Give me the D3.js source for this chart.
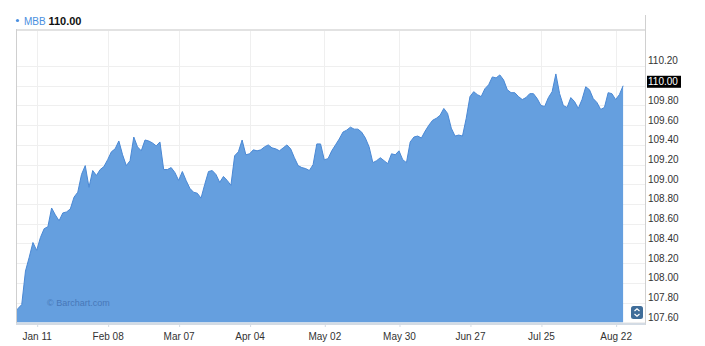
<!DOCTYPE html>
<html>
<head>
<meta charset="utf-8">
<script src="https://cdn.jsdelivr.net/npm/d3@7"></script>
<style>
  body { margin: 0; background: #fff; }
  svg { display: block; font-family: "Liberation Sans", Arial, sans-serif; }
</style>
</head>
<body>
<div id="grafica"></div>
<script>
// MBB daily closes (trading days), first value is the day before the visible window
const symbol = "MBB";
const prices = [
  107.70, 107.74, 107.78, 108.12, 108.26, 108.41, 108.33, 108.46, 108.55, 108.57,
  108.76, 108.69, 108.63, 108.71, 108.72, 108.75, 108.87, 108.92, 109.10, 109.19,
  108.97, 109.14, 109.09, 109.15, 109.18, 109.25, 109.33, 109.36, 109.44, 109.30,
  109.19, 109.24, 109.48, 109.38, 109.34, 109.45, 109.44, 109.42, 109.39, 109.43,
  109.15, 109.15, 109.17, 109.12, 109.04, 109.13, 109.04, 108.96, 108.92, 108.91,
  108.86, 109.00, 109.13, 109.14, 109.10, 109.02, 109.08, 109.04, 108.99, 109.29,
  109.33, 109.45, 109.30, 109.31, 109.35, 109.34, 109.35, 109.38, 109.40, 109.37,
  109.36, 109.34, 109.37, 109.40, 109.36, 109.27, 109.19, 109.17, 109.16, 109.14,
  109.20, 109.41, 109.41, 109.25, 109.26, 109.34, 109.40, 109.46, 109.53, 109.55,
  109.58, 109.56, 109.56, 109.53, 109.47, 109.38, 109.22, 109.24, 109.27, 109.24,
  109.21, 109.31, 109.30, 109.34, 109.25, 109.22, 109.43, 109.48, 109.49, 109.47,
  109.54, 109.60, 109.65, 109.67, 109.70, 109.77, 109.72, 109.57, 109.49, 109.50,
  109.49, 109.67, 109.89, 109.94, 109.91, 109.89, 109.97, 110.01, 110.09, 110.08,
  110.11, 110.06, 109.96, 109.93, 109.93, 109.89, 109.86, 109.88, 109.92, 109.92,
  109.87, 109.80, 109.79, 109.88, 109.94, 110.12, 109.92, 109.80, 109.78, 109.88,
  109.84, 109.77, 109.86, 109.99, 109.96, 109.87, 109.83, 109.76, 109.78, 109.93,
  109.92, 109.86, 109.91, 110.00
];
const tickIndex = [6, 25, 44, 63, 83, 103, 122, 141, 161];
const tickLabels = ["Jan 11", "Feb 08", "Mar 07", "Apr 04", "May 02", "May 30", "Jun 27", "Jul 25", "Aug 22"];
const yTicks = [107.60, 107.80, 108.00, 108.20, 108.40, 108.60, 108.80, 109.00, 109.20, 109.40, 109.60, 109.80, 110.00, 110.20];

const width = 705, height = 346;
const plot = { left: 16, right: 645.5, top: 29.5, bottom: 324 };

const svg = d3.select("#grafica")
  .append("svg")
  .attr("width", width)
  .attr("height", height);

const x = d3.scaleLinear()
  .domain([0, prices.length - 1])
  .range([14.27, 623.1]);

const y = d3.scaleLinear()
  .domain([107.583, 110.571])
  .range([plot.bottom, plot.top]);

svg.append("defs").append("clipPath")
  .attr("id", "clip")
  .append("rect")
  .attr("x", plot.left)
  .attr("y", plot.top)
  .attr("width", plot.right - plot.left)
  .attr("height", plot.bottom - plot.top);

// grid
svg.append("g")
  .selectAll("line")
  .data(yTicks)
  .enter()
  .append("line")
  .attr("x1", plot.left)
  .attr("x2", plot.right)
  .attr("y1", d => Math.round(y(d)) + 0.5)
  .attr("y2", d => Math.round(y(d)) + 0.5)
  .attr("stroke", "#efefef");

svg.append("g")
  .selectAll("line")
  .data(tickIndex)
  .enter()
  .append("line")
  .attr("x1", d => Math.round(x(d)) + 0.5)
  .attr("x2", d => Math.round(x(d)) + 0.5)
  .attr("y1", plot.top)
  .attr("y2", plot.bottom)
  .attr("stroke", "#efefef");

// area
const area = d3.area()
  .x((d, i) => x(i))
  .y0(y(107.6))
  .y1(d => y(d));

const line = d3.line()
  .x((d, i) => x(i))
  .y(d => y(d));

const g = svg.append("g").attr("clip-path", "url(#clip)");

g.append("path")
  .datum(prices)
  .attr("d", area)
  .attr("fill", "#659fdf");

g.append("path")
  .datum(prices)
  .attr("d", line)
  .attr("fill", "none")
  .attr("stroke", "#4a88d4")
  .attr("stroke-width", 1)
  .attr("stroke-linejoin", "round");

// watermark
svg.append("text")
  .attr("x", 47)
  .attr("y", 306)
  .attr("font-size", 9)
  .attr("fill", "#4777b8")
  .text("\u00a9 Barchart.com");

// frame
svg.append("line")
  .attr("x1", plot.left).attr("x2", plot.right)
  .attr("y1", 30).attr("y2", 30)
  .attr("stroke", "#e2e2e2").attr("stroke-width", 2);

svg.append("line")
  .attr("x1", plot.left + 0.5).attr("x2", plot.left + 0.5)
  .attr("y1", 29).attr("y2", plot.bottom)
  .attr("stroke", "#cfcfcf");

svg.append("line")
  .attr("x1", plot.right).attr("x2", plot.right)
  .attr("y1", 15).attr("y2", plot.bottom + 1)
  .attr("stroke", "#d0d0d0");

// x axis
const xAxis = svg.append("g")
  .attr("transform", "translate(0," + plot.bottom + ")")
  .call(d3.axisBottom(x)
    .tickValues(tickIndex)
    .tickFormat((d, i) => tickLabels[i])
    .tickSize(3)
    .tickPadding(6));

xAxis.select(".domain")
  .attr("d", "M" + plot.left + ",0H" + plot.right)
  .attr("stroke", "#d3dbe4")
  .attr("stroke-width", 2);

xAxis.selectAll(".tick line").attr("stroke", "#d3dbe4").attr("transform", "translate(0.5,0)");
xAxis.selectAll(".tick text")
  .attr("font-size", 10)
  .attr("fill", "#333")
  .attr("font-family", "Liberation Sans, Arial, sans-serif");

// y axis labels
const yAxis = svg.append("g")
  .attr("transform", "translate(" + (plot.right + 2.5) + ",0)")
  .call(d3.axisRight(y)
    .tickValues(yTicks)
    .tickFormat(d3.format(".2f"))
    .tickSize(0)
    .tickPadding(0));

yAxis.select(".domain").remove();
yAxis.selectAll(".tick text")
  .attr("font-size", 10)
  .attr("fill", "#333")
  .attr("dy", "-0.22em")
  .attr("font-family", "Liberation Sans, Arial, sans-serif");

// last price marker
const last = prices[prices.length - 1];
const lastY = y(last);
svg.append("rect")
  .attr("x", plot.right + 1.5)
  .attr("y", lastY - 10)
  .attr("width", 34)
  .attr("height", 12)
  .attr("fill", "#000");

svg.append("text")
  .attr("x", plot.right + 2.5)
  .attr("y", lastY - 0.5)
  .attr("font-size", 10)
  .attr("fill", "#fff")
  .text(d3.format(".2f")(last));

// legend
svg.append("circle")
  .attr("cx", 17.5)
  .attr("cy", 20.5)
  .attr("r", 1.6)
  .attr("fill", "#4a8fe0");

const legend = svg.append("text")
  .attr("x", 24)
  .attr("y", 24.5);

legend.append("tspan")
  .attr("font-size", 10)
  .attr("fill", "#4a8fe0")
  .text(symbol + " ");

legend.append("tspan")
  .attr("font-size", 11)
  .attr("font-weight", "bold")
  .attr("fill", "#111")
  .text(d3.format(".2f")(last));

// scroll icon
const icon = svg.append("g").attr("transform", "translate(631,306)");
icon.append("rect")
  .attr("width", 12).attr("height", 13).attr("rx", 2.5)
  .attr("fill", "#3f6d99");
icon.append("path")
  .attr("d", "M3.5,5 L6,2.7 L8.5,5 M3.5,8 L6,10.3 L8.5,8")
  .attr("fill", "none")
  .attr("stroke", "#fff")
  .attr("stroke-width", 1.2);
</script>
</body>
</html>
